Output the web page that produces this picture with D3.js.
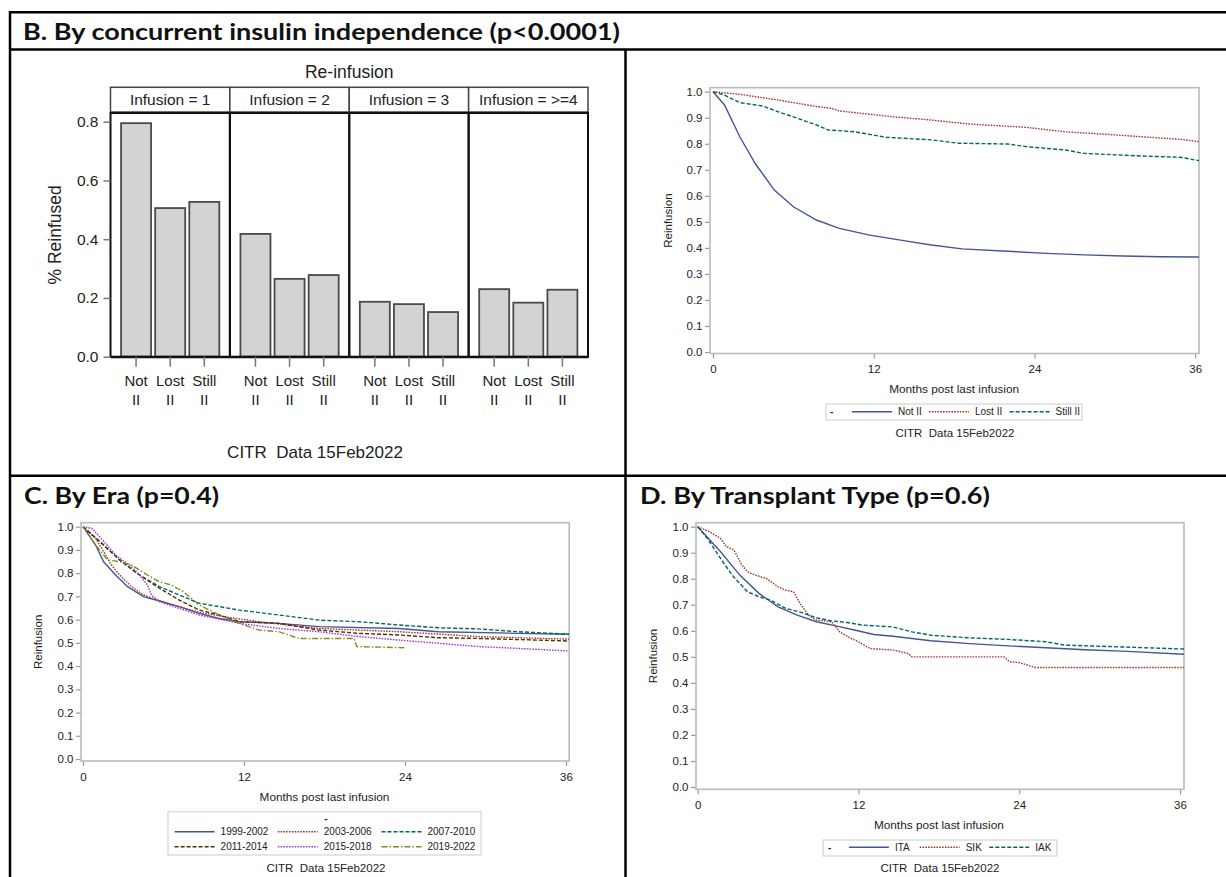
<!DOCTYPE html>
<html><head><meta charset="utf-8">
<script src="https://cdn.jsdelivr.net/npm/d3@7"></script>
<style>body{margin:0;background:#fff;} svg{display:block;} text{font-family:"Liberation Sans",Arial,sans-serif;}</style>
</head><body>
<svg id="chart" width="1226" height="877"></svg>
<script>
// ---------------- DATA ----------------
const panelTitles = ["B. By concurrent insulin independence (p<0.0001)", "C. By Era (p=0.4)", "D. By Transplant Type (p=0.6)"];
const citrNote = "CITR  Data 15Feb2022";

// Bar chart (panel B left)
const barTitle = "Re-infusion";
const barGroups = ["Infusion = 1", "Infusion = 2", "Infusion = 3", "Infusion = >=4"];
const barCats = ["Not II", "Lost II", "Still II"];
const barValues = [
  [0.795, 0.506, 0.527],
  [0.418, 0.265, 0.278],
  [0.187, 0.179, 0.152],
  [0.230, 0.184, 0.228]
];
const barYTicks = [0, 0.2, 0.4, 0.6, 0.8];
const barYLabel = "% Reinfused";

// KM axes
const kmXTicks = [0, 12, 24, 36];
const kmYTicks = [0, 0.1, 0.2, 0.3, 0.4, 0.5, 0.6, 0.7, 0.8, 0.9, 1.0];
const kmXLabel = "Months post last infusion";
const kmYLabel = "Reinfusion";

// Panel B right: by concurrent insulin independence  [month, proportion]
const iiNames = ["Not II", "Lost II", "Still II"];
const notII = [[0,1.0],[0.86,0.949],[2.0,0.827],[3.14,0.725],[4.58,0.622],[6.0,0.558],[7.72,0.507],[9.43,0.475],[11.7,0.449],[14.0,0.430],[16.3,0.411],[18.6,0.396],[22.0,0.387],[24.9,0.379],[27.7,0.373],[30.6,0.369],[33.4,0.366],[36.3,0.365]];
const lostII = [[0,1.0],[2.0,0.990],[4.86,0.968],[7.72,0.943],[8.86,0.936],[9.43,0.926],[13.4,0.904],[16.3,0.891],[19.1,0.876],[23.4,0.863],[26.3,0.846],[29.2,0.837],[32.0,0.827],[34.9,0.817],[36.3,0.808]];
const stillII = [[0,1.0],[0.86,0.987],[1.6,0.968],[2.0,0.958],[3.7,0.945],[4.86,0.923],[6.3,0.898],[7.72,0.872],[8.6,0.853],[10.6,0.846],[12.9,0.825],[16.3,0.815],[18.3,0.802],[22.0,0.799],[23.4,0.789],[26.3,0.776],[27.7,0.763],[32.0,0.753],[34.9,0.748],[36.3,0.735]];

// Panel C: by era
const eraNames = ["1999-2002", "2003-2006", "2007-2010", "2011-2014", "2015-2018", "2019-2022"];
const era1999 = [[0,1],[0.94,0.921],[1.54,0.849],[2.43,0.792],[3.32,0.742],[4.51,0.699],[5.7,0.680],[7.18,0.656],[8.67,0.627],[10.15,0.605],[11.64,0.591],[14.6,0.584],[17.58,0.570],[23.52,0.562],[26.49,0.548],[32.43,0.541],[36.23,0.537]];
const era2003 = [[0,1],[0.94,0.950],[1.54,0.892],[2.13,0.835],[2.73,0.792],[3.62,0.742],[4.51,0.706],[6.29,0.670],[8.67,0.631],[10.45,0.613],[13.12,0.591],[17.58,0.562],[23.52,0.548],[29.46,0.527],[36.23,0.516]];
const era2007 = [[0,1],[1.54,0.921],[2.73,0.857],[4.21,0.792],[5.7,0.742],[7.18,0.706],[8.67,0.670],[10.15,0.656],[11.64,0.641],[14.6,0.620],[17.58,0.598],[20.55,0.591],[23.52,0.577],[26.49,0.565],[29.46,0.560],[32.43,0.548],[36.23,0.537]];
const era2011 = [[0,1],[1.54,0.921],[2.73,0.857],[4.21,0.792],[5.7,0.735],[7.18,0.684],[8.67,0.641],[10.15,0.620],[11.64,0.591],[14.6,0.584],[17.58,0.555],[20.55,0.541],[23.52,0.534],[26.49,0.522],[29.46,0.519],[36.23,0.508]];
const era2015 = [[0,1],[0.65,0.993],[1.24,0.957],[2.43,0.878],[3.62,0.828],[4.21,0.792],[4.8,0.749],[5.1,0.706],[5.7,0.677],[7.18,0.648],[8.67,0.620],[11.64,0.584],[14.6,0.562],[17.58,0.548],[20.55,0.527],[23.52,0.512],[26.49,0.498],[29.46,0.484],[32.43,0.476],[36.23,0.465]];
const era2019 = [[0,1],[0.94,0.921],[1.83,0.857],[2.73,0.849],[3.62,0.835],[4.8,0.792],[5.7,0.763],[6.59,0.749],[7.48,0.720],[8.67,0.663],[10.15,0.620],[11.64,0.584],[13.12,0.555],[14.6,0.548],[16.1,0.519],[20.2,0.519],[20.4,0.484],[23.96,0.479]];

// Panel D: by transplant type
const typeNames = ["ITA", "SIK", "IAK"];
const typeITA = [[0,1],[1.71,0.904],[3.14,0.814],[4.57,0.744],[6.0,0.692],[7.43,0.660],[8.86,0.635],[10.3,0.619],[11.7,0.603],[13.15,0.586],[14.58,0.579],[17.4,0.562],[20.3,0.551],[23.15,0.542],[26.0,0.535],[28.9,0.527],[31.7,0.522],[36.3,0.510]];
const typeSIK = [[0,1],[0.86,0.981],[1.71,0.955],[2.14,0.923],[2.71,0.910],[3.29,0.853],[3.72,0.827],[4.29,0.814],[5.14,0.801],[6.0,0.769],[6.57,0.756],[7.14,0.750],[7.72,0.699],[8.29,0.660],[8.86,0.641],[10.0,0.635],[10.6,0.596],[11.43,0.571],[12.0,0.558],[12.86,0.532],[14.58,0.526],[15.7,0.513],[16.0,0.5],[22.86,0.5],[23.3,0.481],[24.0,0.478],[25.2,0.459],[36.3,0.459]];
const typeIAK = [[0,1],[0.72,0.955],[1.71,0.878],[2.57,0.814],[3.72,0.750],[4.57,0.731],[5.43,0.718],[6.57,0.686],[7.72,0.671],[8.86,0.650],[10.0,0.638],[11.15,0.632],[12.3,0.622],[14.58,0.615],[16.0,0.596],[17.4,0.583],[20.3,0.573],[23.15,0.567],[26.0,0.558],[27.4,0.545],[31.7,0.538],[36.3,0.530]];

// ---------------- STYLE ----------------
const C_BLUE = "#445694", C_RED = "#A23A2E", C_TEAL = "#01665E", C_BROWN = "#543005", C_PURP = "#9D3CDB", C_OLIVE = "#7F8E1F";
const DASH_SOLID = null, DASH_DOT = "1.6,1.2", DASH_DASH = "4,2", DASH_DASHDOT = "6,2,1.5,2";

const svg = d3.select("#chart");
svg.append("rect").attr("width", 1226).attr("height", 877).attr("fill", "#fff");

// ---------------- FRAME / TABLE ----------------
const frame = svg.append("g").attr("stroke", "#000").attr("stroke-width", 2.5);
frame.append("line").attr("x1", 9).attr("x2", 1226).attr("y1", 12.3).attr("y2", 12.3);
frame.append("line").attr("x1", 9).attr("x2", 1226).attr("y1", 49.5).attr("y2", 49.5);
frame.append("line").attr("x1", 9).attr("x2", 1226).attr("y1", 475.8).attr("y2", 475.8);
frame.append("line").attr("x1", 10).attr("x2", 10).attr("y1", 11).attr("y2", 877);
frame.append("line").attr("x1", 625.5).attr("x2", 625.5).attr("y1", 49.5).attr("y2", 877);

function sectionTitle(txt, x, y, len, size) {
  svg.append("text").attr("x", x).attr("y", y).text(txt)
    .style("font-family", "Lato, 'Open Sans', sans-serif").style("font-weight", "bold")
    .style("font-size", size + "px").attr("fill", "#111")
    .attr("textLength", len).attr("lengthAdjust", "spacingAndGlyphs");
}
sectionTitle(panelTitles[0], 23, 39.5, 597, 23);
sectionTitle(panelTitles[1], 24, 504.3, 195, 22);
sectionTitle(panelTitles[2], 640, 504.3, 350, 22);

// ---------------- BAR CHART ----------------
(function () {
  const L = 110.5, R = 588, T = 113, B = 356.7, ST = 87.3, SB = 112;
  const pw = (R - L) / barGroups.length;
  const yS = d3.scaleLinear().domain([0, 0.8]).range([B, 121.7]);
  const g = svg.append("g");

  g.append("text").attr("x", (L + R) / 2).attr("y", 78).attr("text-anchor", "middle")
    .style("font-size", "17.5px").attr("fill", "#222").text(barTitle);

  barGroups.forEach((grp, i) => {
    const x0 = L + i * pw;
    g.append("rect").attr("x", x0).attr("y", ST).attr("width", pw).attr("height", SB - ST)
      .attr("fill", "#fff").attr("stroke", "#444").attr("stroke-width", 1.5);
    g.append("text").attr("x", x0 + pw / 2).attr("y", ST + 17.5).attr("text-anchor", "middle")
      .style("font-size", "15.5px").attr("fill", "#222").text(grp);

    const xb = d3.scaleBand().domain(barCats).range([x0, x0 + pw]).paddingInner(0.12).paddingOuter(0.31);
    g.selectAll(null).data(barValues[i]).enter().append("rect")
      .attr("x", (d, j) => xb(barCats[j])).attr("width", xb.bandwidth())
      .attr("y", d => yS(d)).attr("height", d => B - yS(d))
      .attr("fill", "#d3d3d3").attr("stroke", "#4a4a4a").attr("stroke-width", 1.8);

    g.append("rect").attr("x", x0).attr("y", T).attr("width", pw).attr("height", B - T)
      .attr("fill", "none").attr("stroke", "#111").attr("stroke-width", 2);

    const ax = g.append("g").attr("transform", `translate(0,${B})`)
      .call(d3.axisBottom(xb).tickSize(10).tickSizeOuter(0).tickFormat(""));
    ax.select(".domain").attr("stroke", "#111").attr("stroke-width", 2.2);
    ax.selectAll(".tick line").attr("stroke", "#777").attr("stroke-width", 1.5);
    ax.selectAll(".tick").each(function (d) {
      const parts = d.split(" ");
      const t = d3.select(this);
      t.append("text").attr("y", 29.8).attr("text-anchor", "middle").attr("fill", "#222")
        .style("font-size", "15px").text(parts[0]);
      t.append("text").attr("y", 48.8).attr("text-anchor", "middle").attr("fill", "#222")
        .style("font-size", "15px").text(parts[1]);
    });
  });

  const ya = g.append("g").attr("transform", `translate(${L},0)`)
    .call(d3.axisLeft(yS).tickValues(barYTicks).tickFormat(d3.format(".1f")).tickSize(7).tickPadding(5));
  ya.select(".domain").remove();
  ya.selectAll(".tick line").attr("stroke", "#777").attr("stroke-width", 1.5);
  ya.selectAll(".tick text").style("font-size", "15.5px").attr("fill", "#222").style("font-family", "'Liberation Sans',Arial,sans-serif");

  g.append("text").attr("transform", `translate(61,${(T + B) / 2}) rotate(-90)`).attr("text-anchor", "middle")
    .style("font-size", "17.5px").attr("fill", "#222").text(barYLabel);

  g.append("text").attr("x", 315).attr("y", 458).attr("text-anchor", "middle")
    .style("font-size", "17px").style("white-space", "pre").attr("fill", "#222").text(citrNote);
})();

// ---------------- KM PANELS ----------------
function drawKM(cfg) {
  const x = d3.scaleLinear().domain([0, 36]).range([cfg.x0, cfg.x36]);
  const y = d3.scaleLinear().domain([0, 1]).range([cfg.y0, cfg.y1]);
  const g = svg.append("g");
  const clipId = "clip" + cfg.id;
  g.append("clipPath").attr("id", clipId).append("rect")
    .attr("x", cfg.fl).attr("y", cfg.ft).attr("width", cfg.fr - cfg.fl).attr("height", cfg.fb - cfg.ft);

  const ya = g.append("g").attr("transform", `translate(${cfg.fl},0)`)
    .call(d3.axisLeft(y).tickValues(kmYTicks).tickFormat(d3.format(".1f")).tickSize(5).tickPadding(2.5));
  ya.select(".domain").remove();
  const xa = g.append("g").attr("transform", `translate(0,${cfg.fb})`)
    .call(d3.axisBottom(x).tickValues(kmXTicks).tickFormat(d3.format("d")).tickSize(5).tickPadding(6.5));
  xa.select(".domain").remove();
  [ya, xa].forEach(a => {
    a.selectAll(".tick line").attr("stroke", "#999").attr("stroke-width", 1.2);
    a.selectAll(".tick text").style("font-size", "11.5px").attr("fill", "#222").style("font-family", "'Liberation Sans',Arial,sans-serif");
  });

  g.append("rect").attr("x", cfg.fl).attr("y", cfg.ft).attr("width", cfg.fr - cfg.fl).attr("height", cfg.fb - cfg.ft)
    .attr("fill", "none").attr("stroke", "#bbb").attr("stroke-width", 1.6);

  const line = d3.line().x(d => x(d[0])).y(d => y(d[1]));
  const lg = g.append("g").attr("clip-path", `url(#${clipId})`);
  cfg.series.forEach(s => {
    lg.append("path").datum(s.data).attr("d", line).attr("fill", "none")
      .attr("stroke", s.color).attr("stroke-width", 1.4)
      .attr("stroke-dasharray", s.dash);
  });

  g.append("text").attr("transform", `translate(${cfg.ylx},${(cfg.ft + cfg.fb) / 2}) rotate(-90)`)
    .attr("text-anchor", "middle").style("font-size", "11.5px").attr("fill", "#222").text(kmYLabel);
  g.append("text").attr("x", (cfg.x0 + cfg.x36) / 2).attr("y", cfg.xly).attr("text-anchor", "middle")
    .style("font-size", "11.8px").attr("fill", "#222").text(kmXLabel);

  // legend
  const lb = cfg.legend;
  g.append("rect").attr("x", lb.x).attr("y", lb.y).attr("width", lb.w).attr("height", lb.h)
    .attr("fill", "#fff").attr("stroke", "#d4d4d4").attr("stroke-width", 1.2);
  g.append("text").attr("x", lb.dashX).attr("y", lb.dashY).attr("text-anchor", "middle")
    .style("font-size", "10px").style("font-weight", "bold").attr("fill", "#222").text("-");
  lb.items.forEach((it, k) => {
    const s = cfg.series[k];
    g.append("line").attr("x1", it.x).attr("x2", it.x + 40).attr("y1", it.y).attr("y2", it.y)
      .attr("stroke", s.color).attr("stroke-width", 1.4).attr("stroke-dasharray", s.dash);
    g.append("text").attr("x", it.x + 46).attr("y", it.y + 3.6)
      .style("font-size", "10px").attr("fill", "#222").text(s.name);
  });

  g.append("text").attr("x", cfg.citrX).attr("y", cfg.citrY).attr("text-anchor", "middle")
    .style("font-size", "11.5px").style("white-space", "pre").attr("fill", "#222").text(citrNote);
}

drawKM({
  id: "B", fl: 710, ft: 87.7, fr: 1199, fb: 353.5,
  x0: 713, x36: 1195.2, y0: 352, y1: 91.7, ylx: 672, xly: 393,
  series: [
    { name: iiNames[0], data: notII, color: C_BLUE, dash: DASH_SOLID },
    { name: iiNames[1], data: lostII, color: C_RED, dash: DASH_DOT },
    { name: iiNames[2], data: stillII, color: C_TEAL, dash: DASH_DASH }
  ],
  legend: { x: 826, y: 404, w: 256, h: 16, dashX: 831.7, dashY: 415,
    items: [{ x: 852, y: 411.7 }, { x: 929, y: 411.7 }, { x: 1009.6, y: 411.7 }] },
  citrX: 955, citrY: 436.7
});

drawKM({
  id: "C", fl: 81, ft: 522.7, fr: 569.2, fb: 761,
  x0: 83, x36: 566, y0: 759, y1: 526.7, ylx: 42, xly: 801,
  series: [
    { name: eraNames[0], data: era1999, color: C_BLUE, dash: DASH_SOLID },
    { name: eraNames[1], data: era2003, color: C_RED, dash: DASH_DOT },
    { name: eraNames[2], data: era2007, color: C_TEAL, dash: DASH_DASH },
    { name: eraNames[3], data: era2011, color: C_BROWN, dash: DASH_DASH },
    { name: eraNames[4], data: era2015, color: C_PURP, dash: DASH_DOT },
    { name: eraNames[5], data: era2019, color: C_OLIVE, dash: DASH_DASHDOT }
  ],
  legend: { x: 168, y: 811.7, w: 313, h: 43.3, dashX: 326, dashY: 822,
    items: [{ x: 174.6, y: 831.7 }, { x: 277.8, y: 831.7 }, { x: 381.5, y: 831.7 },
            { x: 174.6, y: 846.7 }, { x: 277.8, y: 846.7 }, { x: 381.5, y: 846.7 }] },
  citrX: 326, citrY: 871.5
});

drawKM({
  id: "D", fl: 696, ft: 522.7, fr: 1184, fb: 789.3,
  x0: 697.7, x36: 1180, y0: 787, y1: 526.7, ylx: 657, xly: 828.5,
  series: [
    { name: typeNames[0], data: typeITA, color: C_BLUE, dash: DASH_SOLID },
    { name: typeNames[1], data: typeSIK, color: C_RED, dash: DASH_DOT },
    { name: typeNames[2], data: typeIAK, color: C_TEAL, dash: DASH_DASH }
  ],
  legend: { x: 823, y: 840, w: 234, h: 16, dashX: 829.7, dashY: 851,
    items: [{ x: 848.9, y: 847.3 }, { x: 919.7, y: 847.3 }, { x: 989.3, y: 847.3 }] },
  citrX: 940, citrY: 871.5
});
</script>
</body></html>
